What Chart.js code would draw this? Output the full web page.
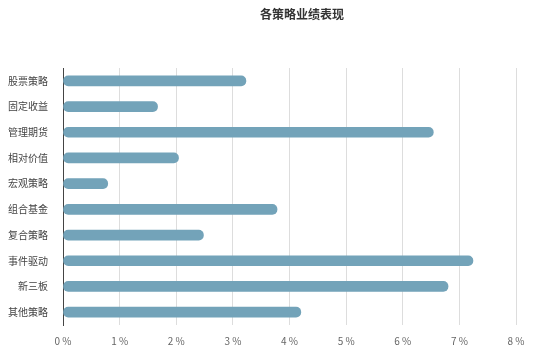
<!DOCTYPE html>
<html><head><meta charset="utf-8">
<script src="https://cdn.jsdelivr.net/npm/chart.js@4/dist/chart.umd.min.js"></script>
<style>html,body{margin:0;padding:0;background:#fff}</style>
</head><body>
<canvas id="c" width="546" height="358"></canvas>
<script>
const titleText = '各策略业绩表现';
const categories = ['股票策略','固定收益','管理期货','相对价值','宏观策略','组合基金','复合策略','事件驱动','新三板','其他策略'];
const values = [3.23, 1.67, 6.54, 2.04, 0.79, 3.78, 2.48, 7.24, 6.80, 4.20];
const xTicks = [0,1,2,3,4,5,6,7,8];
const font = '"Noto Sans CJK SC", "Noto Sans", sans-serif';
const titlePlugin = {
  id: 'customTitle',
  afterDraw(chart) {
    const ctx = chart.ctx;
    ctx.save();
    ctx.font = 'bold 12px ' + font;
    ctx.fillStyle = '#333';
    ctx.textAlign = 'center';
    ctx.textBaseline = 'middle';
    ctx.fillText(titleText, 302, 14);
    ctx.restore();
  }
};
new Chart(document.getElementById('c'), {
  type: 'bar',
  data: { labels: categories, datasets: [{ data: values, backgroundColor: '#73a3b9', borderRadius: 5, borderSkipped: false, barThickness: 10 }] },
  options: {
    indexAxis: 'y', responsive: false, animation: false,
    layout: { padding: { left: 0, right: 30, top: 68, bottom: 0 } },
    plugins: { legend: { display: false }, tooltip: { enabled: false }, title: { display: false } },
    scales: {
      x: { min: 0, max: 8, afterFit: s => { s.height = 33; },
        afterBuildTicks: s => { s.ticks = xTicks.map(v => ({ value: v })); },
        grid: { color: '#ddd', drawTicks: false }, border: { display: false },
        ticks: { padding: 10, color: '#666', font: { family: font, size: 10 }, callback: v => v + ' %' } },
      y: { afterFit: s => { s.width = 63; }, grid: { display: false, drawTicks: false },
        border: { display: true, color: '#444', width: 1 },
        ticks: { padding: 15, color: '#444', font: { family: font, size: 10 } } }
    }
  },
  plugins: [titlePlugin]
});
</script>
</body></html>
